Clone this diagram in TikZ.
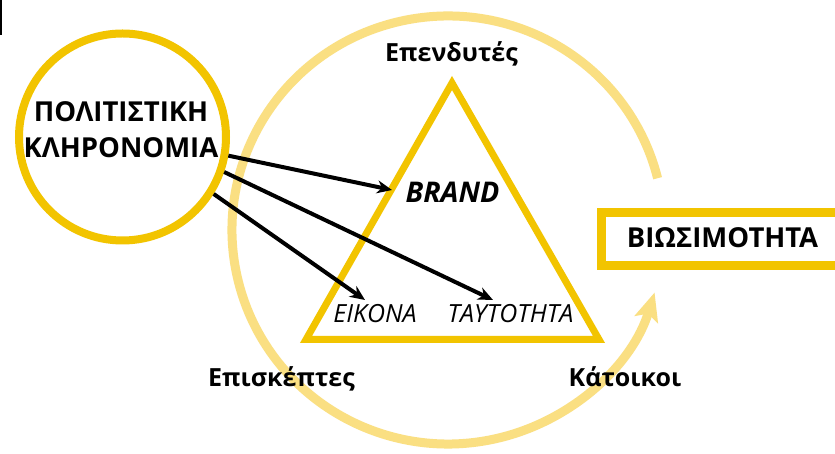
\documentclass[tikz,border=0pt]{standalone}
\usepackage{fontspec}
\setmainfont{Open Sans}
\usetikzlibrary{arrows.meta}
\definecolor{gold}{RGB}{242,196,0}
\definecolor{lightgold}{RGB}{250,223,130}
\begin{document}
\begin{tikzpicture}[x=1pt,y=1pt,
  txt/.style={inner sep=0pt, anchor=base, text=black},
  bigtxt/.style={txt, font=\bfseries\fontsize{27.5}{36}\selectfont},
  roletxt/.style={txt, font=\bfseries\fontsize{25}{30}\selectfont},
  innertxt/.style={txt, font=\itshape\fontsize{25}{30}\selectfont},
  link/.style={black, line width=4, -{Stealth[length=15,width=13]}},
  ring/.style={lightgold, line width=9},
  goldline/.style={gold, line width=7, line join=miter}]
\useasboundingbox (0,0) rectangle (835,454);
\fill[white] (0,0) rectangle (835,454);
\fill[black] (0,419) rectangle (2,454);

% big cycle
\draw[ring, -{Stealth[length=28,width=24,inset=6]}]
  (448,224) ++(14:216 and 214) arc[start angle=14, end angle=343, x radius=216, y radius=214];

% triangle
\coordinate (apex) at (452,371);
\coordinate (bl) at (306,114.5);
\coordinate (br) at (599,114.5);
\draw[goldline] (apex) -- (bl) -- (br) -- cycle;

% heritage circle
\node[circle, draw=gold, line width=8, minimum size=207, inner sep=0pt] (heritage) at (122.5,317) {};
\node[bigtxt] (her1) at (121,332) {ΠΟΛΙΤΙΣΤΙΚΗ};
\node[bigtxt] (her2) at (121,296) {ΚΛΗΡΟΝΟΜΙΑ};

% sustainability box
\node[draw=gold, line width=9, minimum width=243.5, minimum height=53, inner sep=0pt] (box) at (723,215) {};
\node[bigtxt] (sust) at (722.5,206) {ΒΙΩΣΙΜΟΤΗΤΑ};

% role labels
\node[roletxt] (investors) at (451.5,392) {Επενδυτές};
\node[roletxt] (visitors) at (281.5,67) {Επισκέπτες};
\node[roletxt] (residents) at (625,67) {Κάτοικοι};

% inner labels
\node[txt, font=\bfseries\itshape\fontsize{28.5}{32}\selectfont] (brand) at (452.5,251) {BRAND};
\node[innertxt] (image) at (375,131) {ΕΙΚΟΝΑ};
\node[innertxt] (identity) at (510.5,131) {ΤΑΥΤΟΤΗΤΑ};

% arrow ends
\coordinate (toBrand) at (392,264);
\coordinate (toIdentity) at (493,154);
\coordinate (toImage) at (365,154);

\draw[link] (heritage.-10.5) -- (toBrand);
\draw[link] (heritage.-19) -- (toIdentity);
\draw[link] (heritage.-32.4) -- (toImage);
\end{tikzpicture}
\end{document}
